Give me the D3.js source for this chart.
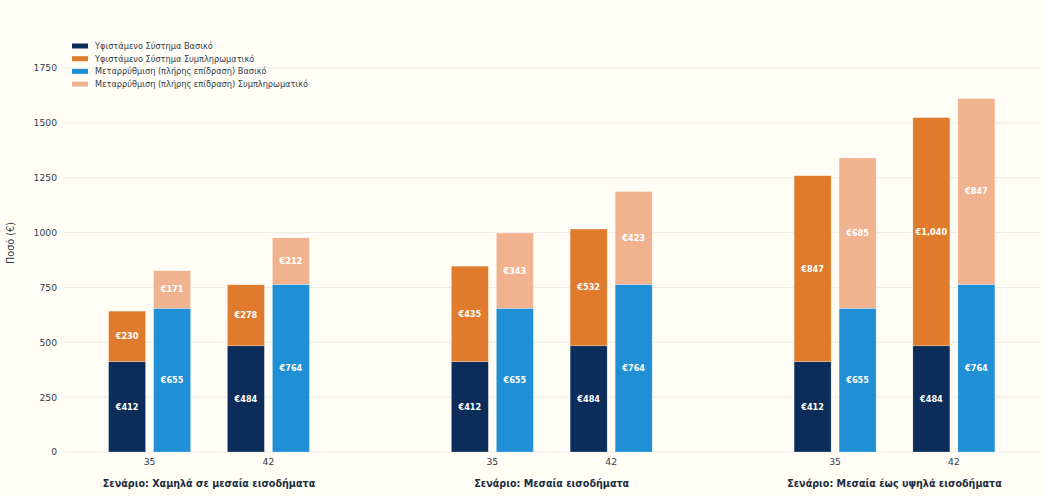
<!DOCTYPE html>
<html>
<head>
<meta charset="utf-8">
<script src="https://cdn.jsdelivr.net/npm/d3@7/dist/d3.min.js"></script>
<style>
  html, body { margin: 0; padding: 0; background: #fffdf5; }
  svg { display: block; font-family: "DejaVu Sans", sans-serif; }
</style>
</head>
<body>
<svg id="chart" width="1046" height="497"></svg>
<script>
// ---- Data ----
const scenarios = ["Σενάριο: Χαμηλά σε μεσαία εισοδήματα", "Σενάριο: Μεσαία εισοδήματα", "Σενάριο: Μεσαία έως υψηλά εισοδήματα"];
const ages = ["35", "42"];
const seriesNames = [
  "Υφιστάμενο Σύστημα Βασικό",
  "Υφιστάμενο Σύστημα Συμπληρωματικό",
  "Μεταρρύθμιση (πλήρης επίδραση) Βασικό",
  "Μεταρρύθμιση (πλήρης επίδραση) Συμπληρωματικό"
];
// values per scenario, per age
const existingBasic = [[412, 484], [412, 484], [412, 484]];
const existingSupp  = [[230, 278], [435, 532], [847, 1040]];
const reformBasic   = [[655, 764], [655, 764], [655, 764]];
const reformSupp    = [[171, 212], [343, 423], [685, 847]];
const yTicks = [0, 250, 500, 750, 1000, 1250, 1500, 1750];
const colors = ["#0c2c59", "#e07b2d", "#1f8fd6", "#f1b38f"];

// ---- Layout ----
const svg = d3.select("#chart");
const plot = { left: 63, right: 1040, top: 68, bottom: 452 };

const y = d3.scaleLinear().domain([0, 1750]).range([plot.bottom, plot.top]);
const xGroup = d3.scalePoint().domain(scenarios).range([209, 894.5]);
const xAge = d3.scaleBand().domain(ages).range([-118.8, 118.8]);
const xSys = d3.scaleBand().domain(["existing", "reform"]).range([-41, 41]).paddingInner(0.178);

// gridlines
svg.append("g").selectAll("line").data(yTicks).join("line")
  .attr("x1", plot.left).attr("x2", plot.right)
  .attr("y1", d => y(d)).attr("y2", d => y(d))
  .attr("stroke", "#eeece5").attr("stroke-width", 1);

// y axis labels
const yAxis = d3.axisLeft(y).tickValues(yTicks).tickSize(0).tickPadding(6).tickFormat(d3.format("d"));
const yg = svg.append("g").attr("transform", `translate(${plot.left},0)`).call(yAxis);
yg.select(".domain").remove();
yg.selectAll("text").attr("font-size", 9.2).attr("fill", "#2f3e4e").attr("font-family", "DejaVu Sans");

svg.append("text")
  .attr("transform", `translate(14,243) rotate(-90)`)
  .attr("text-anchor", "middle").attr("font-size", 9.7).attr("fill", "#2f3e4e")
  .text("Ποσό (€)");

// build segments
const segs = [];
scenarios.forEach((sc, si) => {
  ages.forEach((ag, ai) => {
    const cx = xGroup(sc) + xAge(ag) + xAge.bandwidth() / 2;
    segs.push({ cx, sys: "existing", y0: 0, y1: existingBasic[si][ai], v: existingBasic[si][ai], c: 0 });
    segs.push({ cx, sys: "existing", y0: existingBasic[si][ai], y1: existingBasic[si][ai] + existingSupp[si][ai], v: existingSupp[si][ai], c: 1 });
    segs.push({ cx, sys: "reform", y0: 0, y1: reformBasic[si][ai], v: reformBasic[si][ai], c: 2 });
    segs.push({ cx, sys: "reform", y0: reformBasic[si][ai], y1: reformBasic[si][ai] + reformSupp[si][ai], v: reformSupp[si][ai], c: 3 });
  });
});

const bars = svg.append("g");
bars.selectAll("rect").data(segs).join("rect")
  .attr("x", d => d.cx + xSys(d.sys))
  .attr("width", xSys.bandwidth())
  .attr("y", d => y(d.y1))
  .attr("height", d => y(d.y0) - y(d.y1))
  .attr("fill", d => colors[d.c])
  .attr("stroke", "#ffffff").attr("stroke-opacity", 0.5).attr("stroke-width", 0.5);

const fmt = d3.format(",");
bars.selectAll("text").data(segs).join("text")
  .attr("x", d => d.cx + xSys(d.sys) + xSys.bandwidth() / 2)
  .attr("y", d => y((d.y0 + d.y1) / 2))
  .attr("dy", "0.35em")
  .attr("text-anchor", "middle")
  .attr("font-size", 8.2).attr("font-weight", "bold")
  .attr("fill", "#ffffff")
  .text(d => "€" + fmt(d.v));

// x age labels
scenarios.forEach(sc => {
  ages.forEach(ag => {
    svg.append("text")
      .attr("x", xGroup(sc) + xAge(ag) + xAge.bandwidth() / 2)
      .attr("y", 465)
      .attr("text-anchor", "middle").attr("font-size", 9.2).attr("fill", "#2f3e4e")
      .text(ag);
  });
  svg.append("text")
    .attr("x", xGroup(sc)).attr("y", 487)
    .attr("text-anchor", "middle").attr("font-size", 9.6).attr("font-weight", "bold")
    .attr("fill", "#1c2d3e")
    .text(sc);
});

// legend
const lg = svg.append("g").attr("transform", "translate(72,42)");
seriesNames.forEach((n, i) => {
  lg.append("rect").attr("x", 0).attr("y", i * 12.7 + 1.5).attr("width", 16).attr("height", 5).attr("fill", colors[i]);
  lg.append("text").attr("x", 23).attr("y", i * 12.7 + 4).attr("dy", "0.35em")
    .attr("font-size", 8.2).attr("fill", "#2f3e4e").text(n);
});
</script>
</body>
</html>
